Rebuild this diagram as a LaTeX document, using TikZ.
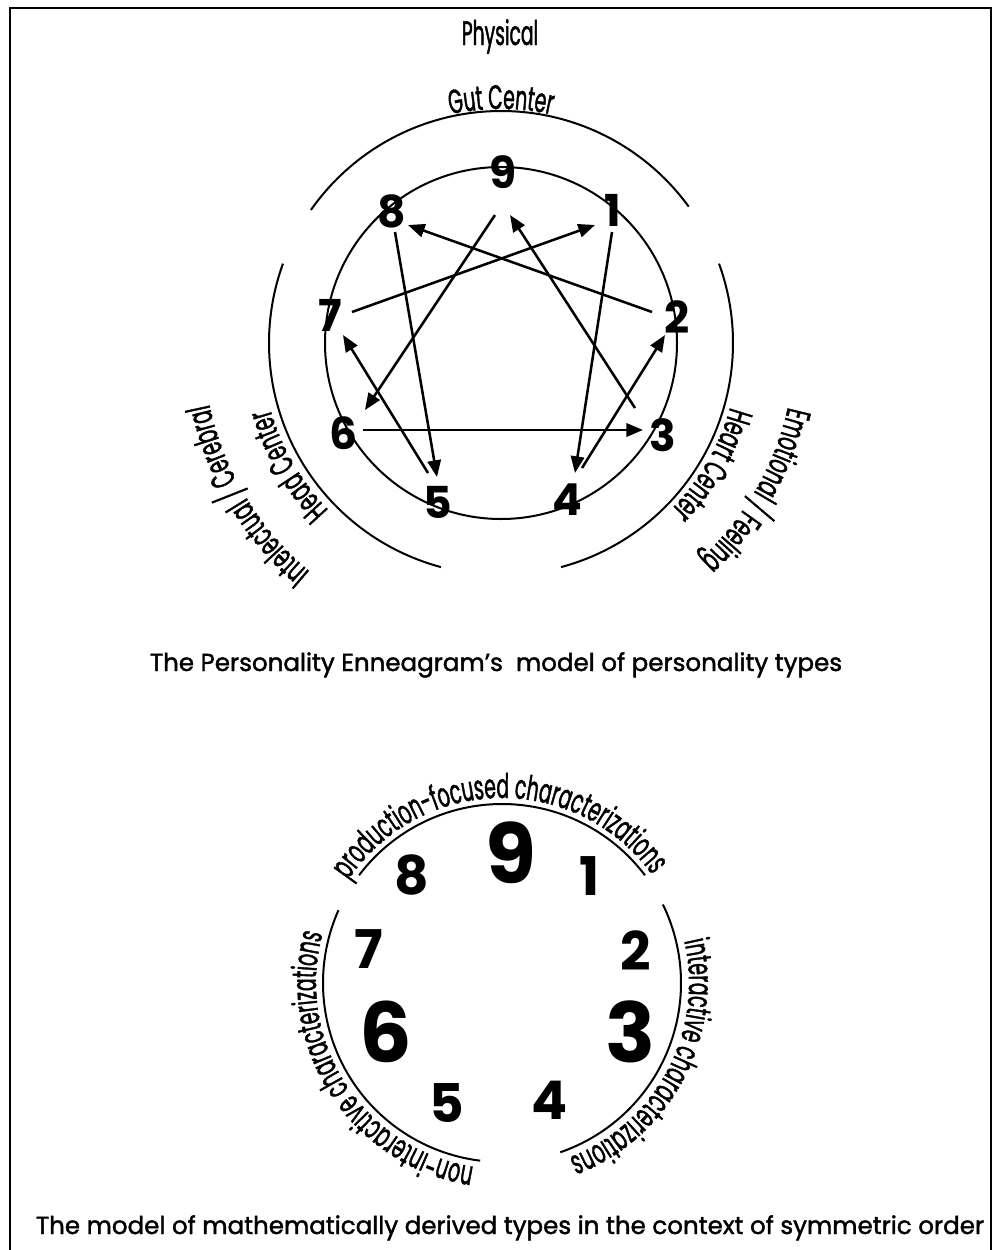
\documentclass[tikz,border=0pt]{standalone}
\usepackage{fontspec}
\setmainfont{Poppins}
\newfontfamily\condfont[FakeStretch=0.55,FakeBold=1.2]{Poppins}
\newfontfamily\capfont[FakeBold=1.6]{Poppins}
\usetikzlibrary{arrows.meta,decorations.text}
\newcommand\arcfont{\condfont\fontsize{25.5pt}{30pt}\selectfont}
\newcommand\arclabel[5]{%
  \path[decorate,decoration={text along path,text align=center,text={|\arcfont|#5}}]
    ([shift={(#3:#2)}]#1) arc[start angle=#3,end angle=#4,radius=#2];}
\begin{document}
\begin{tikzpicture}[x=0.75pt,y=0.75pt,
  circ/.style={line width=1.5pt},
  arr/.style={line width=1.9pt,-{Triangle[length=12.5pt,width=10pt]}},
  num/.style={inner sep=0pt,font=\bfseries\fontsize{33pt}{33pt}\selectfont},
  snum/.style={inner sep=0pt,font=\bfseries\fontsize{40pt}{40pt}\selectfont},
  bnum/.style={inner sep=0pt,font=\bfseries\fontsize{62pt}{62pt}\selectfont},
  caption/.style={inner sep=0pt,anchor=base,font=\capfont\fontsize{18.4pt}{20pt}\selectfont}]
\useasboundingbox (0,0) rectangle (994,-1250);
\draw[line width=2pt] (10,-1260) -- (10,-8) -- (991,-8) -- (991,-1260);

% ---------- top enneagram ----------
\coordinate (C1) at (501,-343);
\draw[circ] (C1) circle[radius=176];
\draw[circ] ([shift={(36:232)}]C1) arc[start angle=36,end angle=145,radius=232];
\draw[circ] ([shift={(160:232)}]C1) arc[start angle=160,end angle=255,radius=232];
\draw[circ] ([shift={(-75:232)}]C1) arc[start angle=-75,end angle=20,radius=232];

\node[anchor=base,inner sep=0pt,font=\arcfont] (phys) at (500,-45) {Physical};
\arclabel{C1}{234}{130}{50}{Gut Center}
\arclabel{C1}{240}{250}{170}{Head Center}
\arclabel{C1}{298}{251}{171}{Intelectual / Cerebral}
\arclabel{C1}{238}{10}{-70}{Heart Center}
\arclabel{C1}{294}{10}{-70}{Emotional / Feeling}

\node[num] (t9) at (503,-172) {9};
\node[num] (t8) at (392,-211) {8};
\node[num] (t1) at (613,-210) {1};
\node[num] (t7) at (330,-315) {7};
\node[num] (t2) at (677,-317) {2};
\node[num] (t6) at (344,-433) {6};
\node[num] (t3) at (663,-435) {3};
\node[num] (t5) at (438,-502) {5};
\node[num] (t4) at (567,-500) {4};

\coordinate (p14) at (612,-232); \coordinate (q14) at (575,-473);
\coordinate (p42) at (582,-468); \coordinate (q42) at (665,-335);
\coordinate (p28) at (652,-312); \coordinate (q28) at (408,-225);
\coordinate (p85) at (395,-232); \coordinate (q85) at (437,-477);
\coordinate (p57) at (428,-473); \coordinate (q57) at (343,-335);
\coordinate (p71) at (352,-312); \coordinate (q71) at (595,-225);
\coordinate (p96) at (495,-215); \coordinate (q96) at (365,-410);
\coordinate (p63) at (363,-430); \coordinate (q63) at (643,-430);
\coordinate (p39) at (635,-408); \coordinate (q39) at (510,-215);
\draw[arr] (p14) -- (q14);
\draw[arr] (p42) -- (q42);
\draw[arr] (p28) -- (q28);
\draw[arr] (p85) -- (q85);
\draw[arr] (p57) -- (q57);
\draw[arr] (p71) -- (q71);
\draw[arr] (p96) -- (q96);
\draw[arr] (p63) -- (q63);
\draw[arr] (p39) -- (q39);

\node[caption] (cap1) at (496,-671) {The Personality Enneagram’s\ \ model of personality types};

% ---------- bottom model ----------
\coordinate (C2) at (502,-983);
\draw[circ] ([shift={(37:179)}]C2) arc[start angle=37,end angle=143,radius=179];
\draw[circ] ([shift={(156:179)}]C2) arc[start angle=156,end angle=263,radius=179];
\draw[circ] ([shift={(-71:179)}]C2) arc[start angle=-71,end angle=26,radius=179];

\arclabel{C2}{185}{171}{11}{production-focused characterizations}
\arclabel{C2}{186}{293}{133}{non-interactive characterizations}
\arclabel{C2}{187}{52}{-108}{interactive characterizations}

\node[bnum] (b9) at (511,-853) {9};
\node[snum] (b8) at (412,-875) {8};
\node[snum] (b1) at (590,-876) {1};
\node[snum] (b7) at (369,-949) {7};
\node[snum] (b2) at (636,-951) {2};
\node[bnum] (b6) at (386,-1032) {6};
\node[bnum] (b3) at (630,-1032) {3};
\node[snum] (b5) at (447,-1103) {5};
\node[snum] (b4) at (550,-1100) {4};

\node[caption] (cap2) at (510,-1234) {The model of mathematically derived types in the context of symmetric order};
\end{tikzpicture}
\end{document}
